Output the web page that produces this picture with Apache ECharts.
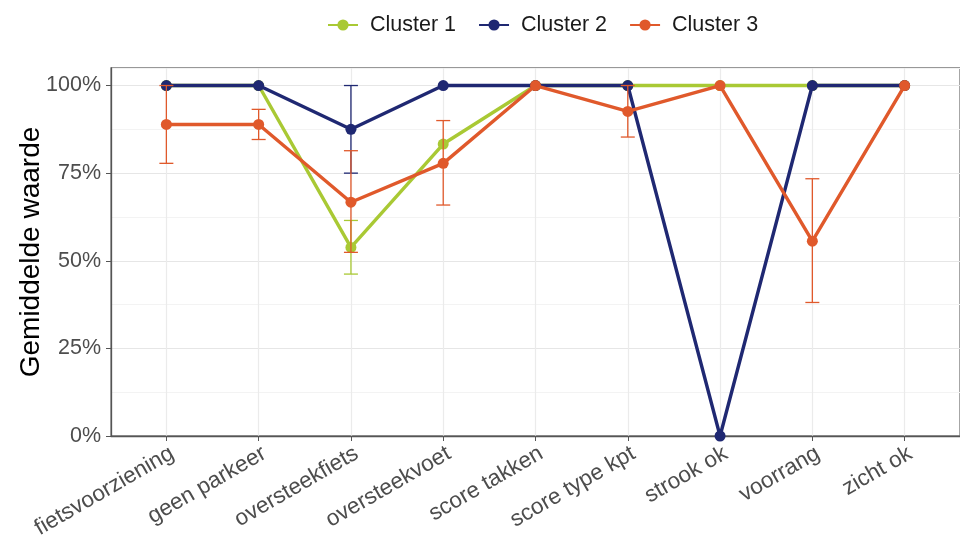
<!DOCTYPE html>
<html>
<head>
<meta charset="utf-8">
<script src="https://cdn.jsdelivr.net/npm/echarts@6/dist/echarts.min.js"></script>
<style>
  html, body { margin: 0; padding: 0; background: #ffffff; }
  #chart { width: 960px; height: 542px; }
</style>
</head>
<body>
<div id="chart"></div>
<script>
// Categories along the x axis
const categories = ['fietsvoorziening', 'geen parkeer', 'oversteekfiets', 'oversteekvoet',
  'score takken', 'score type kpt', 'strook ok', 'voorrang', 'zicht ok'];

// Mean score per cluster (%)
const cluster1 = [100, 100, 53.8, 83.3, 100, 100, 100, 100, 100];
const cluster2 = [100, 100, 87.5, 100, 100, 100, 0, 100, 100];
const cluster3 = [88.9, 88.9, 66.7, 77.8, 100, 92.6, 100, 55.6, 100];

// Error bar bounds per cluster (null = no bar)
const cluster1Low  = [null, null, 46.2, null, null, null, null, null, null];
const cluster1High = [null, null, 61.5, null, null, null, null, null, null];
const cluster2Low  = [null, null, 75.0, null, null, null, null, null, null];
const cluster2High = [null, null, 100, null, null, null, null, null, null];
const cluster3Low  = [77.8, 84.6, 52.4, 65.9, null, 85.3, null, 38.1, null];
const cluster3High = [100, 93.2, 81.4, 90.0, null, 100, null, 73.4, null];

// Tick values
const yTicks = [0, 25, 50, 75, 100];
const xTicks = categories.map((c, i) => i);

const seriesNames = ['Cluster 1', 'Cluster 2', 'Cluster 3'];
const colors = ['#a9c934', '#1f2872', '#e0592b'];

function pointData(values) {
  return values.map((v, i) => [i, v]);
}

function barData(low, high) {
  const out = [];
  low.forEach((lo, i) => {
    if (lo !== null && high[i] !== null) out.push([i, lo, high[i]]);
  });
  return out;
}

function errorBarRenderer(color) {
  return function (params, api) {
    const x = api.value(0);
    const lo = api.coord([x, api.value(1)]);
    const hi = api.coord([x, api.value(2)]);
    const half = 7;
    const style = { stroke: color, lineWidth: 1.3 };
    return {
      type: 'group',
      children: [
        { type: 'line', shape: { x1: lo[0], y1: lo[1], x2: hi[0], y2: hi[1] }, style: style },
        { type: 'line', shape: { x1: lo[0] - half, y1: lo[1], x2: lo[0] + half, y2: lo[1] }, style: style },
        { type: 'line', shape: { x1: hi[0] - half, y1: hi[1], x2: hi[0] + half, y2: hi[1] }, style: style }
      ]
    };
  };
}

const means = [cluster1, cluster2, cluster3];
const lows = [cluster1Low, cluster2Low, cluster3Low];
const highs = [cluster1High, cluster2High, cluster3High];

const series = [];
means.forEach((vals, k) => {
  series.push({
    name: seriesNames[k] + ' fout',
    type: 'custom',
    xAxisIndex: 0,
    yAxisIndex: 0,
    renderItem: errorBarRenderer(colors[k]),
    encode: { x: 0, y: [1, 2] },
    data: barData(lows[k], highs[k]),
    z: 2 + k * 3,
    silent: true
  });
  series.push({
    name: seriesNames[k],
    type: 'line',
    xAxisIndex: 0,
    yAxisIndex: 0,
    data: pointData(vals),
    symbol: 'circle',
    symbolSize: 11,
    showSymbol: true,
    color: colors[k],
    lineStyle: { width: 3.4, color: colors[k] },
    itemStyle: { color: colors[k] },
    z: 3 + k * 3,
    clip: false
  });
});

const chart = echarts.init(document.getElementById('chart'), null, { renderer: 'canvas' });
chart.setOption({
  animation: false,
  backgroundColor: '#ffffff',
  textStyle: { fontFamily: 'Liberation Sans, Arial, sans-serif' },
  legend: {
    data: seriesNames,
    top: 9,
    left: 322,
    itemWidth: 30,
    itemHeight: 14,
    itemGap: 22,
    textStyle: { fontSize: 21.5, color: '#1a1a1a', padding: [0, 0, 0, 7] }
  },
  grid: {
    left: 111,
    right: -2,
    top: 68,
    bottom: 106,
    show: true,
    borderColor: '#777777',
    borderWidth: 1.3
  },
  xAxis: {
    type: 'value',
    min: -0.6,
    max: 8.6,
    axisLine: { show: true, onZero: false, lineStyle: { color: '#555555', width: 1.3 } },
    axisTick: { show: true, customValues: xTicks, length: 5, lineStyle: { color: '#555555' } },
    axisLabel: {
      customValues: xTicks,
      formatter: v => categories[Math.round(v)],
      rotate: 30,
      verticalAlign: 'top',
      margin: 6,
      fontSize: 22.5,
      color: '#4d4d4d'
    },
    splitLine: { show: true, lineStyle: { color: '#ebebeb', width: 1.2 } }
  },
  yAxis: [
    {
      type: 'value',
      min: 0,
      max: 105,
      interval: 12.5,
      position: 'left',
      axisLine: { show: true, onZero: false, lineStyle: { color: '#555555', width: 1.3 } },
      axisTick: { show: false },
      axisLabel: { show: false },
      splitLine: { show: true, lineStyle: { color: ['#e6e6e6', '#f3f3f3'], width: 1.2 } }
    },
    {
      type: 'value',
      min: 0,
      max: 105,
      position: 'left',
      offset: 0,
      name: 'Gemiddelde waarde',
      nameLocation: 'middle',
      nameRotate: 90,
      nameGap: 66,
      nameMoveOverlap: false,
      nameTextStyle: { fontSize: 28, color: '#000000' },
      axisLine: { show: false, onZero: false },
      axisTick: { show: true, customValues: yTicks, length: 5, lineStyle: { color: '#555555' } },
      axisLabel: { customValues: yTicks, formatter: '{value}%', fontSize: 21.5, color: '#4d4d4d', margin: 10 },
      splitLine: { show: false }
    }
  ],
  series: series
});
</script>
</body>
</html>
